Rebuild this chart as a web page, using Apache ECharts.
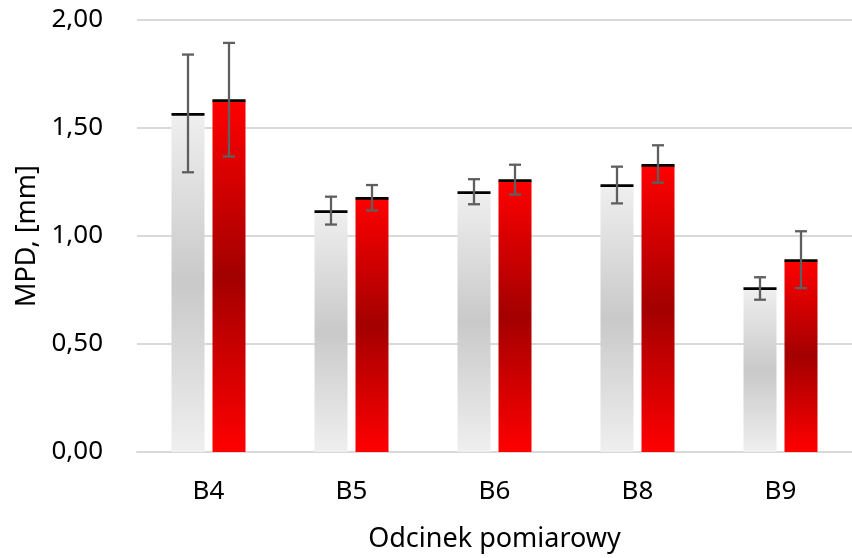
<!DOCTYPE html>
<html>
<head>
<meta charset="utf-8">
<script src="https://cdn.jsdelivr.net/npm/echarts@6/dist/echarts.min.js"></script>
<style>html,body{margin:0;padding:0;background:#fff}#c{width:852px;height:558px}</style>
</head>
<body>
<div id="c"></div>
<script>
var categories = ['B4', 'B5', 'B6', 'B8', 'B9'];
var grayValues = [1.563, 1.113, 1.201, 1.233, 0.756];
var grayErrLow = [1.295, 1.053, 1.147, 1.151, 0.705];
var grayErrHigh = [1.840, 1.182, 1.263, 1.321, 0.809];
var redValues = [1.627, 1.174, 1.256, 1.327, 0.886];
var redErrLow = [1.368, 1.118, 1.192, 1.247, 0.759];
var redErrHigh = [1.894, 1.236, 1.330, 1.420, 1.022];
var yTicks = [0, 0.5, 1, 1.5, 2];

var FONT = 'Noto Sans';
var BAR_W = 33, GAP = 8;

function grad(c1, c2) {
  return new echarts.graphic.LinearGradient(0, 0, 0, 1, [
    {offset: 0, color: c1}, {offset: 0.5, color: c2}, {offset: 1, color: c1}
  ]);
}

function errData(vals, lo, hi) {
  return vals.map(function (v, i) { return [i, v, lo[i], hi[i]]; });
}

function makeRender(offset) {
  return function (params, api) {
    var i = api.value(0);
    var top = api.coord([i, api.value(1)]);
    var lo = api.coord([i, api.value(2)]);
    var hi = api.coord([i, api.value(3)]);
    var x = top[0] + offset;
    var cap = 6;
    var errStyle = {stroke: '#5f5f5f', lineWidth: 2.3, fill: null};
    return {
      type: 'group',
      children: [
        {type: 'rect', shape: {x: x - BAR_W / 2, y: top[1] - 1.4, width: BAR_W, height: 2.8}, style: {fill: '#000'}},
        {type: 'line', shape: {x1: x, y1: lo[1], x2: x, y2: hi[1]}, style: errStyle},
        {type: 'line', shape: {x1: x - cap, y1: lo[1], x2: x + cap, y2: lo[1]}, style: errStyle},
        {type: 'line', shape: {x1: x - cap, y1: hi[1], x2: x + cap, y2: hi[1]}, style: errStyle}
      ]
    };
  };
}

var chart = echarts.init(document.getElementById('c'), null, {renderer: 'canvas'});
chart.setOption({
  animation: false,
  backgroundColor: '#fff',
  grid: {left: 137, top: 20, width: 720, height: 432, containLabel: false},
  xAxis: {
    type: 'category',
    data: categories,
    name: 'Odcinek pomiarowy',
    nameLocation: 'middle',
    nameGap: 74,
    nameTextStyle: {fontFamily: FONT, fontSize: 27, color: '#000'},
    axisLine: {lineStyle: {color: '#d9d9d9', width: 2}},
    axisTick: {show: false},
    axisLabel: {fontFamily: FONT, fontSize: 26, color: '#000', margin: 27}
  },
  yAxis: {
    type: 'value',
    min: 0, max: 2, interval: 0.5,
    name: 'MPD, [mm]',
    nameLocation: 'middle',
    nameGap: 96,
    nameTextStyle: {fontFamily: FONT, fontSize: 27, color: '#000'},
    axisLine: {show: false},
    axisTick: {show: false},
    splitLine: {lineStyle: {color: '#d9d9d9', width: 2}},
    axisLabel: {
      fontFamily: FONT, fontSize: 26, color: '#000', margin: 34,
      formatter: function (v) { return yTicks.indexOf(v) >= 0 ? v.toFixed(2).replace('.', ',') : ''; }
    }
  },
  series: [
    {type: 'bar', data: grayValues, barWidth: BAR_W, barGap: (GAP / BAR_W * 100) + '%',
     itemStyle: {color: grad('#efefef', '#c9c9c9')}},
    {type: 'bar', data: redValues, barWidth: BAR_W,
     itemStyle: {color: grad('#ff0000', '#a30000')}},
    {type: 'custom', data: errData(grayValues, grayErrLow, grayErrHigh), renderItem: makeRender(-(BAR_W + GAP) / 2), z: 5},
    {type: 'custom', data: errData(redValues, redErrLow, redErrHigh), renderItem: makeRender((BAR_W + GAP) / 2), z: 5}
  ]
});
</script>
</body>
</html>
